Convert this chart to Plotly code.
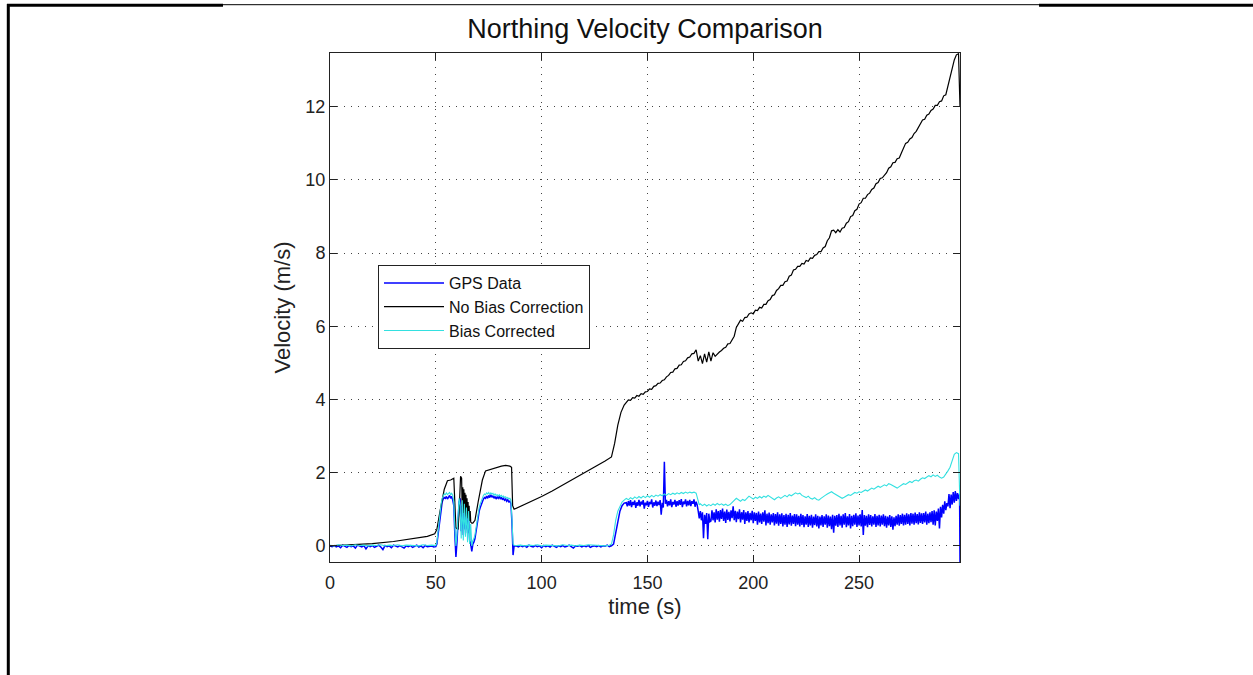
import plotly.graph_objects as go

# ---------------- data ----------------
# GPS Data
GPS_T_A = list(range(0, 51))
GPS_V_A = [0.00,-0.02,0.01,-0.03,0.00,-0.05,0.02,-0.01,-0.04,0.01,
           -0.02,0.00,-0.06,0.02,-0.01,-0.03,0.01,-0.08,0.00,-0.02,
           0.01,-0.04,-0.01,0.02,-0.03,-0.10,0.01,-0.02,0.00,-0.05,
           0.02,-0.01,-0.03,0.01,-0.02,-0.06,0.00,-0.02,0.01,-0.04,
           -0.01,0.02,-0.03,0.00,-0.05,0.01,-0.02,-0.01,0.00,-0.03,
           -0.02]
GPS_T_B = [50.5 + 0.5 * i for i in range(74)]
GPS_V_B = [0.05,0.30,0.60,0.85,1.05,1.20,1.28,1.32,1.30,1.35,
           1.28,1.33,1.38,1.30,1.35,1.25,1.10,0.30,-0.30,0.10,
           0.60,1.20,1.30,0.40,1.10,0.30,1.00,0.45,0.90,0.35,
           0.75,0.15,0.05,-0.15,0.05,0.10,0.20,0.40,0.60,0.80,
           0.95,1.05,1.15,1.22,1.28,1.32,1.30,1.36,1.30,1.38,
           1.32,1.40,1.33,1.37,1.30,1.35,1.28,1.34,1.30,1.36,
           1.28,1.33,1.26,1.30,1.25,1.28,1.22,1.26,1.20,1.22,
           1.15,0.60,-0.25,0.00]
GPS_T_C = list(range(88, 140))
GPS_V_C = [0.00,-0.03,0.01,-0.02,0.00,-0.04,0.02,-0.01,-0.03,0.01,
           -0.02,0.00,-0.05,0.01,-0.02,0.00,-0.03,0.02,-0.01,-0.04,
           0.00,-0.02,0.01,-0.03,-0.01,0.02,-0.02,-0.06,0.00,-0.01,
           0.01,-0.03,0.00,-0.02,0.01,-0.04,-0.01,0.00,-0.02,0.01,
           -0.03,0.00,-0.01,0.02,-0.02,0.00,
           0.05,0.35,0.75,0.95,1.10,1.17]
GPS_T_D = [140 + 0.5 * i for i in range(316)] + [297.7]
GPS_V_D = [1.18,1.08,1.22,1.10,1.25,1.06,1.20,1.12,1.24,1.04,
           1.19,1.10,1.26,1.08,1.21,1.13,1.25,1.02,1.18,1.11,
           1.23,1.07,1.20,1.14,1.27,1.05,1.19,1.10,1.24,1.09,
           1.21,1.12,1.25,0.85,1.18,1.05,2.30,1.15,1.26,1.08,
           1.22,1.11,1.27,1.06,1.20,1.13,1.26,1.07,1.22,1.10,
           1.25,1.12,1.28,1.06,1.21,1.14,1.27,1.08,1.23,1.11,
           1.26,1.09,1.22,1.15,1.27,1.07,1.21,1.12,
           0.95,0.75,
           0.95,0.70,0.92,0.21,0.85,0.60,0.90,0.18,0.88,0.66,
           0.68,0.97,0.70,0.92,0.64,1.00,0.72,0.95,0.66,0.98,
           0.74,1.02,0.68,0.94,0.63,0.99,0.71,0.93,0.67,0.97,
           0.76,1.08,0.70,0.96,0.65,0.94,0.73,1.00,0.64,0.92,
           0.72,0.98,0.60,0.92,0.68,0.95,0.64,0.90,0.70,0.96,
           0.62,0.92,0.68,0.90,0.58,0.94,0.64,0.88,0.60,0.92,
           0.66,0.97,0.56,0.88,0.62,0.91,0.58,0.86,0.64,0.90,
           0.56,0.87,0.61,0.92,0.55,0.86,0.60,0.89,0.53,0.84,
           0.58,0.88,0.52,0.85,0.59,0.90,0.55,0.83,0.60,0.87,
           0.54,0.86,0.58,0.82,0.53,0.88,0.57,0.84,0.51,0.81,
           0.58,0.87,0.52,0.82,0.56,0.85,0.50,0.80,0.57,0.86,
           0.53,0.82,0.48,0.80,0.56,0.84,0.52,0.81,0.58,0.86,
           0.50,0.83,0.54,0.80,0.46,0.85,0.36,0.82,0.55,0.84,
           0.52,0.88,0.56,0.82,0.50,0.86,0.58,0.90,0.51,0.81,
           0.56,0.87,0.48,0.82,0.54,0.85,0.58,0.89,0.52,0.83,
           0.56,0.86,0.53,0.98,0.30,0.84,0.55,0.82,0.51,0.86,
           0.57,0.84,0.53,0.81,0.58,0.87,0.52,0.82,0.56,0.85,
           0.53,0.83,0.58,0.86,0.54,0.82,0.50,0.80,0.56,0.84,
           0.52,0.81,0.44,0.78,0.54,0.82,0.58,0.86,0.55,0.84,
           0.60,0.88,0.56,0.85,0.58,0.89,0.60,0.86,0.56,0.90,
           0.61,0.88,0.58,0.91,0.62,0.87,0.59,0.92,0.63,0.89,
           0.60,0.90,0.64,0.94,0.58,0.88,0.62,0.92,0.65,0.95,
           0.58,0.97,0.56,0.94,0.68,1.02,0.48,1.07,0.78,1.12,
           0.88,1.22,0.98,1.17,1.08,1.42,1.03,1.40,1.13,1.47,
           1.18,1.50,1.23,1.44,1.28,1.42,
           -0.44]

# No Bias Correction
NB_T_A = [0,10,20,30,40,46,49.5,50.5,52,54,55.5,57,58.5,59,59.5,60.5,61,61.7,62.2,62.5,
          62.75,63,63.25,63.5,63.75,64,64.25,64.5,64.75,65,65.25,65.5,65.75,66,66.25,66.5,
          67,67.5,68.5,70,72,73.5,75,77,79,81,83,85,85.8,86.3,87,90,95,100,105,110,115,120,
          125,130,133,134.5,136,137.5,139]
NB_V_A = [0.00,0.02,0.06,0.12,0.20,0.26,0.33,0.45,0.95,1.55,1.78,1.80,1.85,1.20,0.50,0.45,
          0.90,1.90,1.85,0.80,1.60,0.90,1.55,0.85,1.45,0.80,1.40,0.75,1.30,0.75,1.20,0.70,
          1.10,0.68,0.95,0.65,0.62,0.62,0.70,1.20,1.80,2.05,2.08,2.12,2.15,2.18,2.20,2.18,
          2.15,1.10,1.00,1.08,1.21,1.35,1.50,1.66,1.82,1.98,2.15,2.32,2.43,2.80,3.30,3.65,3.85]
NB_T_B = list(range(140, 298)) + [297.7]
NB_V_B = [3.93,3.99,3.98,4.05,4.04,4.11,4.09,4.16,4.14,4.21,
          4.22,4.29,4.28,4.36,4.38,4.44,4.45,4.52,4.54,4.62,
          4.66,4.74,4.75,4.84,4.85,4.94,4.95,5.04,5.06,5.14,
          5.16,5.25,5.26,5.36,5.05,5.20,4.98,5.25,5.02,5.30,
          5.05,5.28,5.18,5.25,5.30,5.34,5.40,5.43,5.52,5.53,
          5.64,5.73,5.97,6.06,6.17,6.14,6.24,6.25,6.34,6.37,
          6.34,6.44,6.43,6.52,6.50,6.60,6.60,6.70,6.73,6.84,
          6.86,6.98,7.03,7.12,7.12,7.22,7.24,7.37,7.40,7.54,
          7.56,7.64,7.64,7.72,7.70,7.80,7.78,7.87,7.86,7.94,
          7.96,8.04,8.04,8.14,8.18,8.34,8.42,8.61,8.63,8.56,
          8.64,8.58,8.68,8.70,8.82,8.86,9.00,9.03,9.16,9.20,
          9.34,9.38,9.50,9.50,9.60,9.64,9.74,9.78,9.90,9.93,
          10.04,10.06,10.14,10.20,10.32,10.36,10.47,10.48,10.58,10.60,
          10.74,10.86,11.00,11.03,11.12,11.16,11.27,11.33,11.44,11.53,
          11.64,11.66,11.77,11.80,11.90,11.94,12.04,12.04,12.14,12.16,
          12.30,12.33,12.57,12.83,13.12,13.28,13.42,13.45,
          12.00]

# Bias Corrected
BC_T_A = list(range(0, 51, 2))
BC_V_A = [0.02,0.00,0.03,0.01,0.02,0.00,0.03,0.01,0.02,0.00,0.02,0.01,0.03,
          0.00,0.02,0.01,0.03,0.00,0.02,0.01,0.02,0.00,0.03,0.01,0.02,0.01]
BC_T_B = [50.5 + 0.5 * i for i in range(74)]
BC_V_B = [0.10,0.40,0.70,0.95,1.15,1.30,1.38,1.42,1.40,1.45,
          1.40,1.44,1.46,1.40,1.44,1.38,1.20,0.50,0.00,0.30,
          0.90,1.30,1.10,0.20,1.25,0.15,1.15,0.25,1.05,0.10,
          0.95,0.05,0.60,0.00,0.15,0.20,0.30,0.50,0.70,0.90,
          1.05,1.15,1.25,1.32,1.38,1.42,1.40,1.45,1.42,1.46,
          1.40,1.45,1.42,1.44,1.38,1.42,1.38,1.40,1.36,1.40,
          1.35,1.38,1.34,1.36,1.32,1.34,1.30,1.32,1.28,1.30,
          1.25,0.70,0.05,0.02]
BC_T_C = list(range(88, 133, 2)) + list(range(133, 174)) + [174.5]
BC_V_C = [0.01,0.02,0.00,0.02,0.01,0.03,0.00,0.02,0.01,0.02,0.00,0.03,
          0.01,0.02,0.00,0.02,0.01,0.03,0.02,0.01,0.02,0.00,0.02,
          0.05,0.30,0.70,0.95,1.10,1.20,1.25,
          1.30,1.26,1.32,1.28,1.34,1.30,1.35,1.31,1.36,1.32,
          1.37,1.33,1.38,1.34,1.39,1.36,1.40,1.37,1.42,1.38,
          1.43,1.40,1.44,1.41,1.45,1.42,1.46,1.43,1.47,1.44,
          1.47,1.45,1.47,1.44,
          1.12]
BC_T_D = list(range(175, 298)) + [297.7]
BC_V_D = [1.15,1.10,1.14,1.09,1.13,1.10,1.15,1.11,1.16,1.12,1.15,1.11,1.14,
          1.10,1.13,1.18,1.25,1.30,1.26,1.22,1.27,1.24,1.30,1.36,1.32,1.28,
          1.33,1.30,1.35,1.31,1.36,1.33,1.38,1.34,1.30,1.26,
          1.31,1.34,1.30,1.35,1.38,1.34,1.40,1.37,1.42,1.45,
          1.42,1.44,1.38,1.35,1.32,1.36,1.30,1.28,1.32,1.27,
          1.25,1.30,1.33,1.38,1.42,1.46,1.48,1.44,1.40,1.36,
          1.33,1.30,1.33,1.37,1.40,1.38,1.42,1.46,1.44,1.48,
          1.46,1.50,1.53,1.50,1.55,1.58,1.55,1.60,1.63,1.60,
          1.64,1.67,1.64,1.70,1.68,1.64,1.60,1.58,1.62,1.66,
          1.70,1.68,1.72,1.76,1.73,1.78,1.80,1.77,1.82,1.86,
          1.84,1.88,1.92,1.89,1.94,1.90,1.93,1.88,1.85,1.88,
          1.95,2.05,2.15,2.30,2.50,2.55,2.52,
          1.10]

X_TICKS = [0, 50, 100, 150, 200, 250]
Y_TICKS = [0, 2, 4, 6, 8, 10, 12]

gps_t = GPS_T_A + GPS_T_B + GPS_T_C + GPS_T_D
gps_v = GPS_V_A + GPS_V_B + GPS_V_C + GPS_V_D
nb_t = NB_T_A + NB_T_B
nb_v = NB_V_A + NB_V_B
bc_t = BC_T_A + BC_T_B + BC_T_C + BC_T_D
bc_v = BC_V_A + BC_V_B + BC_V_C + BC_V_D
for name, a, b in [("gps", gps_t, gps_v), ("nb", nb_t, nb_v), ("bc", bc_t, bc_v)]:
    if len(a) != len(b):
        print("length mismatch", name, len(a), len(b))

# ---------------- layout geometry (pixels) ----------------
W, H = 1253, 675
L, R, T, B = 330, 960, 53, 562
FONT = "Liberation Sans, Arial, sans-serif"


def px(x):
    return (x - L) / (R - L)


def py(y):
    return (B - y) / (B - T)


fig = go.Figure()
fig.add_trace(go.Scatter(x=gps_t, y=gps_v, mode="lines", name="GPS Data",
                         line=dict(color="#0000ff", width=1.5)))
fig.add_trace(go.Scatter(x=nb_t, y=nb_v, mode="lines", name="No Bias Correction",
                         line=dict(color="#000000", width=1.2)))
fig.add_trace(go.Scatter(x=bc_t, y=bc_v, mode="lines", name="Bias Corrected",
                         line=dict(color="#33e0e0", width=1.1)))

axis_common = dict(
    showline=True, linecolor="#222", linewidth=1, mirror="ticks",
    ticks="inside", ticklen=7, tickcolor="#222",
    showgrid=True, gridcolor="#444", gridwidth=1, griddash="1px,6px",
    zeroline=False,
    tickfont=dict(family=FONT, size=18, color="#222"),
)

fig.update_layout(
    width=W, height=H,
    margin=dict(l=L, r=W - R, t=T, b=H - B, autoexpand=False),
    paper_bgcolor="white", plot_bgcolor="white",
    title=dict(text="Northing Velocity Comparison", x=0.5, xref="paper",
               y=1 - 29 / H, yref="container", yanchor="middle", xanchor="center",
               font=dict(family=FONT, size=27, color="#111")),
    xaxis=dict(range=[0, 297.7], tickvals=X_TICKS, ticktext=[str(v) for v in X_TICKS],
               ticklabelstandoff=4,
               title=dict(text="time (s)", font=dict(family=FONT, size=22, color="#222"),
                          standoff=7),
               **axis_common),
    yaxis=dict(range=[-0.44, 13.47], tickvals=Y_TICKS, ticktext=[str(v) for v in Y_TICKS],
               title=dict(text="Velocity (m/s)", font=dict(family=FONT, size=22, color="#222"),
                          standoff=8),
               **axis_common),
    showlegend=True,
    legend=dict(x=px(378), y=py(265), xanchor="left", yanchor="top",
                bgcolor="white", bordercolor="#222", borderwidth=1,
                font=dict(family=FONT, size=16, color="#111"),
                itemwidth=60, tracegroupgap=0),
)

# page (table cell) border lines
shapes = [
    dict(x0=px(7), x1=px(223), y0=py(5.3), y1=py(5.3), w=3),
    dict(x0=px(223), x1=px(1039), y0=py(4.7), y1=py(4.7), w=1),
    dict(x0=px(1039), x1=px(1253), y0=py(5.3), y1=py(5.3), w=3),
    dict(x0=px(8.3), x1=px(8.3), y0=py(4), y1=py(675), w=3),
]
for s in shapes:
    fig.add_shape(type="line", xref="paper", yref="paper",
                  x0=s["x0"], x1=s["x1"], y0=s["y0"], y1=s["y1"],
                  line=dict(color="black", width=s["w"]), layer="above")

fig.write_html("out.html")
